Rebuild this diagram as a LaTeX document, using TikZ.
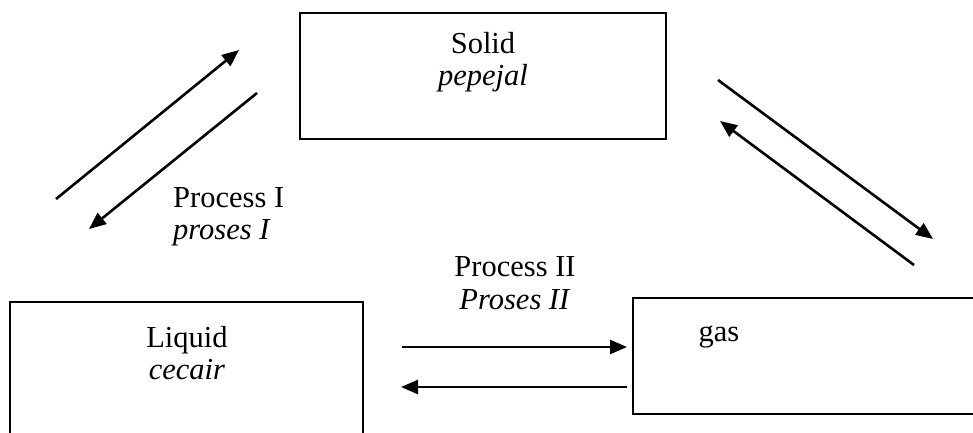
\documentclass[tikz,border=0pt]{standalone}
\usepackage{fontspec}
\setmainfont{Liberation Serif}
\usetikzlibrary{arrows.meta}
\begin{document}
\begin{tikzpicture}[x=1pt,y=-1pt,
  box/.style={draw, line width=2pt, inner sep=0pt},
  lbl/.style={font=\fontsize{30.5}{32.5}\selectfont, inner sep=0pt},
  arr/.style={line width=2.6pt, -{Triangle[length=17pt,width=14pt]}}]
\useasboundingbox (0,0) rectangle (973,432);
\clip (0,0) rectangle (973,432);
% boxes
\node[box, minimum width=366pt, minimum height=126pt] (solid) at (483,76) {};
\node[box, minimum width=353pt, minimum height=138pt] (liquid) at (186.5,371) {};
\node[box, minimum width=352pt, minimum height=116pt] (gas) at (809,356) {};
% box texts
\node[lbl, align=center] (solidtxt) at (483,62) {Solid\\\textit{pepejal}};
\node[lbl, align=center] (liquidtxt) at (187,353) {Liquid\\\textit{cecair}};
\node[lbl] (gastxt) at (719,337) {gas};
% process labels
\node[lbl, align=left, anchor=west] (p1) at (173,217) {Process I\\\textit{proses I}};
\node[lbl, align=center] (p2) at (515,283) {Process II\\\textit{Proses II}};
% arrow end points
\coordinate (c1) at (56,199);  \coordinate (c2) at (239,50);
\coordinate (d1) at (257,93);  \coordinate (d2) at (89,229);
\coordinate (a1) at (718,80);  \coordinate (a2) at (933,239);
\coordinate (b1) at (914,265); \coordinate (b2) at (720,121);
\coordinate (e1) at (402,347); \coordinate (e2) at (627,347);
\coordinate (f1) at (627,387); \coordinate (f2) at (401,387);
\draw[arr] (c1) -- (c2);
\draw[arr] (d1) -- (d2);
\draw[arr] (a1) -- (a2);
\draw[arr] (b1) -- (b2);
\draw[arr] (e1) -- (e2);
\draw[arr] (f1) -- (f2);
\end{tikzpicture}
\end{document}
